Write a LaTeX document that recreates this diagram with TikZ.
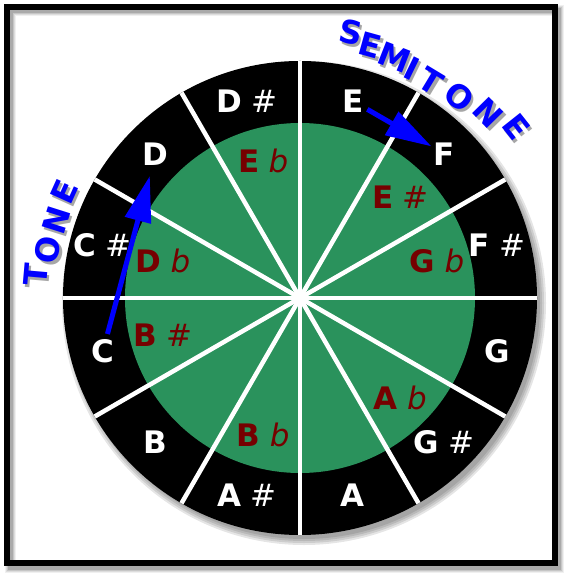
\documentclass[tikz,border=0pt]{standalone}
\usepackage{fontspec}
\setmainfont{DejaVu Sans}
\usetikzlibrary{arrows.meta}

\definecolor{wheelgreen}{RGB}{42,146,92}
\definecolor{enhred}{RGB}{118,0,0}
\definecolor{stepblue}{RGB}{0,0,255}
\newcommand{\shp}{\hspace{0.3em}{\mdseries\#}}
\newcommand{\flt}{\hspace{0.3em}{\mdseries\itshape b}}
% letter with a grey shadow shifted by (\sx,\sy)
\newcommand{\shadowed}[1]{\rlap{\hspace{\sx pt}\raisebox{\sy pt}{\color{black!35}#1}}#1}

\begin{document}
\begin{tikzpicture}[x=1pt,y=1pt,
    note/.style={text=white,font=\fontsize{31}{31}\selectfont\bfseries,inner sep=2pt},
    enh/.style={text=enhred,font=\fontsize{31}{31}\selectfont\bfseries,inner sep=2pt},
    spoke/.style={white,line width=4.5pt},
    movearrow/.style={stepblue,line width=5pt,-{Triangle[length=46pt,width=26pt]}},
    arcletter/.style={text=stepblue,font=\fontsize{32}{32}\selectfont\bfseries,inner sep=0pt}]
    \fill[white] (-300,-282) rectangle (271,298);
    \useasboundingbox (-300,-282) rectangle (271,298);
    % frame with its shadow
    \foreach \w/\o in {11/0.06, 9/0.08, 7/0.1, 5/0.14}
    {   \draw[black,opacity=\o,line width=\w pt] (-289,-269) rectangle (258.5,287);
    }
    \draw[line width=6pt] (-293,-265) rectangle (254.5,291);
    % wheel
    \foreach \r in {242,240,238,236}
    {   \fill[black,opacity=0.1] (4,-5) circle (\r pt);
    }
    \fill (0,0) circle (237pt);
    \fill[wheelgreen] (0,0) circle (175pt);
    \foreach \ang in {0,30,...,330}
    {   \draw[spoke] (0,0) -- (\ang:237pt);
    }
    \fill[white] (0,0) circle (7pt);
    % note names
    \def\outer {E/75/E, F/45/F, Fs/15/F\shp, G/-15/G, Gs/-45/G\shp, A/-75/A,
    As/-105/A\shp, B/-135/B, C/-165/C, Cs/165/C\shp, D/135/D, Ds/105/D\shp}
    \foreach \nm/\ang/\lbl in \outer
    {   \node[note] (\nm) at (\ang:204pt) {\lbl};
    }
    \def\inner {Eb/105/E\flt, Es/45/E\shp, Gb/15/G\flt, Ab/-45/A\flt,
    Bb/-105/B\flt, Bs/-165/B\shp, Db/165/D\flt}
    \foreach \nm/\ang/\lbl in \inner
    {   \node[enh] (\nm) at (\ang:142pt) {\lbl};
    }
    % tone and semitone steps
    \draw[movearrow,shorten <=3pt,shorten >=9pt] (C) -- (D);
    \draw[movearrow,shorten <=2pt] (E) -- (F);
    \def\arcwords {T/175/264, O/169.2/255, N/162.4/254, E/155.7/257,
    S/79.2/269, E/74.4/261, M/68.6/257, I/64/254, T/58.9/253,
    O/51.6/256, N/44.5/264, E/38.4/276}
    \foreach \ch/\ang/\rad [count=\i] in \arcwords
    {   \pgfmathsetmacro\sx{2.5*cos(90-\ang)+3*sin(90-\ang)}
        \pgfmathsetmacro\sy{2.5*sin(90-\ang)-3*cos(90-\ang)}
        \node[arcletter,rotate=\ang-90] (arc\i) at (\ang:\rad pt) {\shadowed{\ch}};
    }
\end{tikzpicture}
\end{document}
